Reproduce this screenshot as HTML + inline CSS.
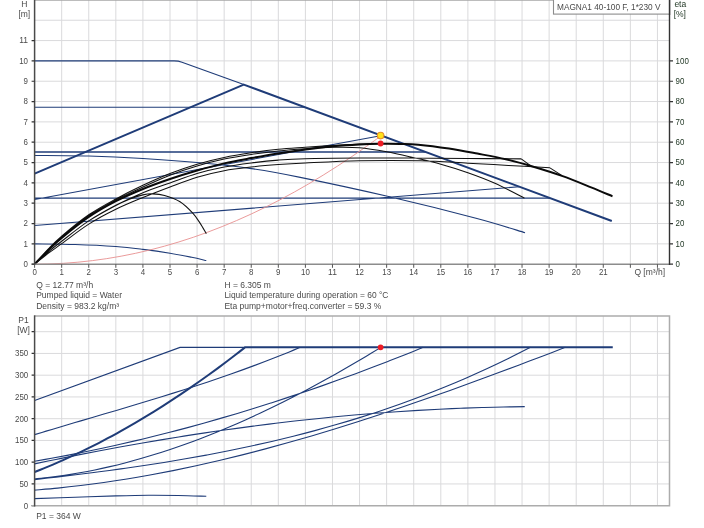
<!DOCTYPE html>
<html><head><meta charset="utf-8"><title>MAGNA1 40-100 F pump curve</title>
<style>
html,body{margin:0;padding:0;background:#fff;}
body{width:704px;height:528px;overflow:hidden;position:relative;font-family:"Liberation Sans",sans-serif;}
svg{display:block;}
</style></head><body>
<svg width="704" height="528" viewBox="0 0 704 528" style="position:absolute;left:0;top:0">
<rect x="0" y="0" width="704" height="528" fill="#fff"/>
<path d="M61.68,0V264.20M61.68,316V505.70M88.76,0V264.20M88.76,316V505.70M115.84,0V264.20M115.84,316V505.70M142.92,0V264.20M142.92,316V505.70M170.00,0V264.20M170.00,316V505.70M197.08,0V264.20M197.08,316V505.70M224.16,0V264.20M224.16,316V505.70M251.24,0V264.20M251.24,316V505.70M278.32,0V264.20M278.32,316V505.70M305.40,0V264.20M305.40,316V505.70M332.48,0V264.20M332.48,316V505.70M359.56,0V264.20M359.56,316V505.70M386.64,0V264.20M386.64,316V505.70M413.72,0V264.20M413.72,316V505.70M440.80,0V264.20M440.80,316V505.70M467.88,0V264.20M467.88,316V505.70M494.96,0V264.20M494.96,316V505.70M522.04,0V264.20M522.04,316V505.70M549.12,0V264.20M549.12,316V505.70M576.20,0V264.20M576.20,316V505.70M603.28,0V264.20M603.28,316V505.70M630.36,0V264.20M630.36,316V505.70M657.44,0V264.20M657.44,316V505.70M34.60,243.87H669.50M34.60,223.54H669.50M34.60,203.21H669.50M34.60,182.88H669.50M34.60,162.55H669.50M34.60,142.22H669.50M34.60,121.89H669.50M34.60,101.56H669.50M34.60,81.23H669.50M34.60,60.90H669.50M34.60,40.57H669.50M34.60,20.24H669.50M34.60,483.95H669.50M34.60,462.20H669.50M34.60,440.45H669.50M34.60,418.70H669.50M34.60,396.95H669.50M34.60,375.20H669.50M34.60,353.45H669.50M34.60,331.70H669.50" stroke="#dadadc" stroke-width="1" fill="none"/>
<path d="M34.60,60.90 L174,60.90 Q178.5,60.90 182,62.20 L243.75,84.60 M34.60,107.25 H304.87 M34.60,198.13 H550.08 M34.60,199.55 L380.60,135.70 M34.60,225.57 L519.40,186.76 M34.60,155.43 C43.63,155.54 70.71,155.54 88.76,156.04 C106.81,156.55 124.87,157.40 142.92,158.48 C160.97,159.57 179.03,160.86 197.08,162.55 C215.13,164.24 234.04,166.18 251.24,168.65 C268.44,171.12 277.55,172.78 300.25,177.39 C322.96,182.00 358.16,189.49 387.45,196.30 C416.74,203.11 453.08,212.19 476.00,218.25 C498.93,224.32 516.85,230.28 525.02,232.69 M34.60,243.87 C41.37,243.97 61.68,244.04 75.22,244.48 C88.76,244.92 104.56,245.70 115.84,246.51 C127.12,247.33 133.89,248.24 142.92,249.36 C151.95,250.48 161.88,251.90 170.00,253.22 C178.12,254.54 185.62,256.07 191.66,257.29 C197.71,258.51 203.85,260.00 206.29,260.54" stroke="#1f3c78" stroke-width="1.1" fill="none"/>
<path d="M34.60,151.98 H425.56" stroke="#1f3c78" stroke-width="1.3" fill="none"/>
<path d="M34.60,173.60 L243.75,84.60 L611.80,221.00" stroke="#1f3c78" stroke-width="2" fill="none" stroke-linejoin="round"/>
<path d="M34.60,264.20 C37.01,264.16 44.22,264.13 49.03,263.98 C53.84,263.83 58.65,263.61 63.46,263.31 C68.27,263.01 73.08,262.64 77.89,262.20 C82.70,261.75 87.52,261.23 92.33,260.64 C97.14,260.04 101.95,259.37 106.76,258.63 C111.57,257.89 116.38,257.07 121.19,256.18 C126.00,255.29 130.81,254.33 135.62,253.29 C140.43,252.25 145.24,251.13 150.05,249.95 C154.86,248.76 159.67,247.50 164.48,246.16 C169.29,244.82 174.10,243.41 178.91,241.93 C183.72,240.44 188.53,238.89 193.35,237.25 C198.16,235.62 202.97,233.91 207.78,232.13 C212.59,230.35 217.40,228.49 222.21,226.56 C227.02,224.63 231.83,222.63 236.64,220.55 C241.45,218.47 246.26,216.32 251.07,214.09 C255.88,211.86 260.69,209.56 265.50,207.19 C270.31,204.81 275.12,202.36 279.93,199.84 C284.74,197.31 289.55,194.71 294.36,192.04 C299.18,189.37 303.99,186.62 308.80,183.80 C313.61,180.98 318.42,178.08 323.23,175.12 C328.04,172.15 332.85,169.10 337.66,165.98 C342.47,162.87 347.28,159.67 352.09,156.41 C356.90,153.14 361.71,149.80 366.52,146.39 C371.33,142.97 378.55,137.66 380.95,135.92" stroke="#e89090" stroke-width="0.9" fill="none"/>
<path d="M34.60,264.20 C36.86,261.69 43.63,253.83 48.14,249.16 C52.65,244.48 54.91,241.87 61.68,236.14 C68.45,230.42 79.73,221.00 88.76,214.80 C97.79,208.60 106.81,203.85 115.84,198.94 C124.87,194.03 133.89,189.56 142.92,185.32 C151.95,181.08 160.97,177.05 170.00,173.53 C179.03,170.00 188.05,166.85 197.08,164.18 C206.11,161.50 215.13,159.36 224.16,157.47 C233.19,155.57 242.21,154.15 251.24,152.79 C260.27,151.44 269.29,150.25 278.32,149.34 C287.35,148.42 296.37,147.95 305.40,147.30 C314.43,146.66 323.45,146.01 332.48,145.47 C341.51,144.93 351.48,144.39 359.56,144.05 C367.64,143.71 377.39,143.54 380.95,143.44 M34.60,264.20 C36.86,261.79 43.63,254.27 48.14,249.77 C52.65,245.26 54.91,242.79 61.68,237.16 C68.45,231.54 79.73,222.18 88.76,216.02 C97.79,209.85 106.81,205.01 115.84,200.16 C124.87,195.32 133.89,191.11 142.92,186.95 C151.95,182.78 160.97,178.64 170.00,175.15 C179.03,171.66 188.05,168.68 197.08,166.01 C206.11,163.33 215.13,161.03 224.16,159.09 C233.19,157.16 242.21,155.77 251.24,154.42 C260.27,153.06 269.29,151.91 278.32,150.96 C287.35,150.01 296.37,149.34 305.40,148.73 C314.43,148.12 323.45,147.47 332.48,147.30 C341.51,147.13 350.53,146.96 359.56,147.71 C368.59,148.45 377.61,150.11 386.64,151.78 C395.67,153.44 404.69,155.60 413.72,157.67 C422.75,159.74 431.77,161.67 440.80,164.18 C449.83,166.68 458.85,169.53 467.88,172.72 C476.91,175.90 485.53,179.05 494.96,183.29 C504.39,187.52 519.56,195.65 524.48,198.13 M34.60,264.20 C36.86,262.17 43.63,255.83 48.14,252.00 C52.65,248.17 54.91,246.41 61.68,241.23 C68.45,236.04 79.73,226.89 88.76,220.90 C97.79,214.90 106.81,209.95 115.84,205.24 C124.87,200.53 133.89,196.37 142.92,192.64 C151.95,188.91 160.97,186.07 170.00,182.88 C179.03,179.69 188.05,176.17 197.08,173.53 C206.11,170.89 215.13,168.78 224.16,167.02 C233.19,165.26 242.21,164.11 251.24,162.96 C260.27,161.80 269.29,160.82 278.32,160.11 C287.35,159.40 291.86,159.03 305.40,158.69 C318.94,158.35 341.51,158.18 359.56,158.08 C377.61,157.98 395.67,158.01 413.72,158.08 C431.77,158.15 449.96,158.35 467.88,158.48 C485.80,158.62 512.34,158.82 521.23,158.89 M34.60,264.20 C36.86,262.40 43.63,256.85 48.14,253.43 C52.65,250.00 54.91,248.55 61.68,243.67 C68.45,238.79 79.73,229.88 88.76,224.15 C97.79,218.42 106.81,213.75 115.84,209.31 C124.87,204.87 133.89,201.24 142.92,197.52 C151.95,193.79 160.97,190.33 170.00,186.95 C179.03,183.56 188.05,179.90 197.08,177.19 C206.11,174.48 215.13,172.38 224.16,170.68 C233.19,168.99 242.21,168.04 251.24,167.02 C260.27,166.01 269.29,165.26 278.32,164.58 C287.35,163.91 291.86,163.60 305.40,162.96 C318.94,162.31 340.38,161.09 359.56,160.72 C378.74,160.35 402.44,160.31 420.49,160.72 C438.54,161.13 453.21,162.38 467.88,163.16 C482.55,163.94 494.82,164.62 508.50,165.40 C522.18,166.18 543.03,167.43 549.93,167.84 M34.60,264.20 C36.86,262.17 43.63,255.83 48.14,252.00 C52.65,248.17 54.91,246.41 61.68,241.23 C68.45,236.04 79.73,226.86 88.76,220.90 C97.79,214.93 109.07,209.07 115.84,205.45 C122.61,201.82 124.87,200.91 129.38,199.14 C133.89,197.38 139.04,195.76 142.92,194.87 C146.80,193.99 149.06,193.76 152.67,193.86 C156.28,193.96 160.03,194.16 164.58,195.48 C169.14,196.81 175.33,198.84 180.02,201.79 C184.71,204.73 189.41,209.61 192.75,213.17 C196.09,216.73 197.80,219.71 200.06,223.13 C202.32,226.56 205.25,231.94 206.29,233.70 M521.23,158.89 L530.16,165.40 M549.93,167.84 L561.31,175.15" stroke="#111" stroke-width="1.05" fill="none" stroke-linejoin="round"/>
<path d="M34.60,264.20 C36.86,261.90 43.63,254.75 48.14,250.38 C52.65,246.00 54.91,243.53 61.68,237.97 C68.45,232.42 79.73,223.17 88.76,217.03 C97.79,210.90 106.81,205.85 115.84,201.18 C124.87,196.50 133.89,192.67 142.92,188.98 C151.95,185.29 160.97,182.10 170.00,179.02 C179.03,175.93 188.05,173.09 197.08,170.48 C206.11,167.87 215.13,165.43 224.16,163.36 C233.19,161.30 242.21,159.74 251.24,158.08 C260.27,156.42 269.29,154.82 278.32,153.40 C287.35,151.98 296.28,150.72 305.40,149.54 C314.52,148.35 323.99,147.13 333.02,146.29 C342.05,145.44 351.57,144.86 359.56,144.46 C367.55,144.05 374.18,143.93 380.95,143.85 C387.72,143.76 393.95,143.81 400.18,143.95 C406.41,144.08 410.20,143.90 418.32,144.66 C426.45,145.42 439.08,147.03 448.92,148.52 C458.76,150.01 467.88,151.81 477.36,153.60 C486.84,155.40 496.31,157.06 505.79,159.30 C515.27,161.53 524.75,164.21 534.23,167.02 C543.70,169.83 553.18,172.78 562.66,176.17 C572.14,179.56 582.79,184.00 591.09,187.35 C599.40,190.71 608.92,194.81 612.49,196.30" stroke="#0a0a0a" stroke-width="2.0" fill="none"/>
<path d="M34.60,400.52 L180.02,347.36 L245.01,347.36 M34.60,434.62 C36.53,434.04 42.30,432.30 46.15,431.15 C50.00,430.00 53.85,428.86 57.70,427.71 C61.55,426.57 65.40,425.43 69.25,424.30 C73.10,423.16 76.95,422.03 80.80,420.89 C84.65,419.76 88.50,418.63 92.35,417.50 C96.20,416.36 100.05,415.23 103.90,414.09 C107.75,412.96 111.60,411.82 115.45,410.68 C119.30,409.54 123.15,408.40 127.00,407.25 C130.85,406.10 134.70,404.94 138.55,403.78 C142.40,402.62 146.25,401.46 150.10,400.28 C153.95,399.10 157.80,397.92 161.65,396.73 C165.50,395.54 169.35,394.34 173.20,393.13 C177.05,391.91 180.90,390.69 184.75,389.46 C188.60,388.22 192.45,386.98 196.30,385.72 C200.15,384.46 204.00,383.18 207.85,381.90 C211.70,380.61 215.55,379.30 219.40,377.98 C223.25,376.66 227.10,375.33 230.95,373.97 C234.80,372.62 238.65,371.25 242.50,369.86 C246.35,368.46 250.20,367.05 254.05,365.62 C257.90,364.19 261.75,362.74 265.60,361.26 C269.45,359.79 273.30,358.29 277.15,356.77 C281.00,355.25 284.85,353.71 288.70,352.14 C292.55,350.57 298.33,348.16 300.25,347.36 M34.60,461.19 C37.42,460.70 45.86,459.26 51.50,458.25 C57.13,457.24 62.76,456.19 68.39,455.12 C74.02,454.04 79.65,452.93 85.29,451.79 C90.92,450.65 96.55,449.47 102.18,448.27 C107.81,447.06 113.45,445.82 119.08,444.56 C124.71,443.29 130.34,441.99 135.97,440.66 C141.61,439.32 147.24,437.96 152.87,436.57 C158.50,435.18 164.13,433.75 169.76,432.30 C175.40,430.84 181.03,429.36 186.66,427.85 C192.29,426.33 197.92,424.79 203.56,423.21 C209.19,421.64 214.82,420.03 220.45,418.40 C226.08,416.76 231.71,415.10 237.35,413.41 C242.98,411.72 248.61,409.99 254.24,408.24 C259.87,406.49 265.51,404.71 271.14,402.90 C276.77,401.10 282.40,399.26 288.03,397.39 C293.67,395.53 299.30,393.63 304.93,391.71 C310.56,389.79 316.19,387.84 321.82,385.86 C327.46,383.89 333.09,381.88 338.72,379.85 C344.35,377.82 349.98,375.76 355.62,373.67 C361.25,371.59 366.88,369.47 372.51,367.33 C378.14,365.19 383.78,363.02 389.41,360.83 C395.04,358.64 400.67,356.42 406.30,354.17 C411.93,351.93 420.38,348.50 423.20,347.36 M34.60,463.90 C38.15,463.15 48.81,460.90 55.91,459.44 C63.01,457.98 70.12,456.55 77.22,455.15 C84.33,453.74 91.43,452.36 98.53,451.01 C105.64,449.66 112.74,448.34 119.84,447.04 C126.95,445.75 134.05,444.48 141.15,443.24 C148.26,442.01 155.36,440.80 162.46,439.62 C169.57,438.43 176.67,437.28 183.78,436.16 C190.88,435.04 197.98,433.94 205.09,432.88 C212.19,431.82 219.29,430.78 226.40,429.78 C233.50,428.77 240.60,427.80 247.71,426.86 C254.81,425.91 261.92,425.00 269.02,424.12 C276.12,423.24 283.23,422.39 290.33,421.57 C297.43,420.75 304.54,419.97 311.64,419.21 C318.74,418.46 325.85,417.74 332.95,417.05 C340.05,416.36 347.16,415.70 354.26,415.07 C361.37,414.45 368.47,413.86 375.57,413.30 C382.68,412.74 389.78,412.22 396.88,411.73 C403.99,411.24 411.09,410.78 418.19,410.36 C425.30,409.93 432.40,409.54 439.50,409.19 C446.61,408.84 453.71,408.52 460.82,408.24 C467.92,407.95 475.02,407.70 482.13,407.49 C489.23,407.28 496.33,407.10 503.44,406.96 C510.54,406.82 521.20,406.70 524.75,406.65 M34.60,478.90 C37.11,478.64 44.64,477.92 49.66,477.32 C54.68,476.71 59.70,476.04 64.72,475.29 C69.74,474.54 74.76,473.72 79.78,472.82 C84.80,471.93 89.82,470.97 94.84,469.94 C99.85,468.91 104.87,467.80 109.89,466.64 C114.91,465.47 119.93,464.23 124.95,462.93 C129.97,461.63 134.99,460.26 140.01,458.83 C145.03,457.40 150.05,455.90 155.07,454.34 C160.09,452.79 165.11,451.16 170.13,449.48 C175.15,447.80 180.17,446.06 185.19,444.26 C190.21,442.45 195.23,440.59 200.25,438.67 C205.27,436.75 210.29,434.77 215.31,432.74 C220.33,430.71 225.35,428.62 230.36,426.47 C235.38,424.33 240.40,422.13 245.42,419.88 C250.44,417.63 255.46,415.32 260.48,412.97 C265.50,410.61 270.52,408.20 275.54,405.74 C280.56,403.29 285.58,400.78 290.60,398.22 C295.62,395.67 300.64,393.06 305.66,390.41 C310.68,387.76 315.70,385.06 320.72,382.32 C325.74,379.58 330.76,376.79 335.78,373.96 C340.80,371.13 345.82,368.26 350.84,365.34 C355.86,362.43 360.87,359.47 365.89,356.47 C370.91,353.47 378.44,348.88 380.95,347.36 M34.60,479.61 C38.19,479.20 48.97,477.99 56.16,477.15 C63.34,476.31 70.53,475.45 77.72,474.56 C84.90,473.68 92.09,472.77 99.27,471.82 C106.46,470.88 113.65,469.91 120.83,468.90 C128.02,467.90 135.20,466.86 142.39,465.78 C149.58,464.70 156.76,463.59 163.95,462.43 C171.13,461.27 178.32,460.08 185.51,458.83 C192.69,457.59 199.88,456.30 207.06,454.96 C214.25,453.62 221.44,452.23 228.62,450.78 C235.81,449.34 242.99,447.84 250.18,446.29 C257.37,444.73 264.55,443.12 271.74,441.44 C278.92,439.76 286.11,438.03 293.30,436.22 C300.48,434.42 307.67,432.55 314.85,430.61 C322.04,428.67 329.23,426.66 336.41,424.58 C343.60,422.49 350.78,420.34 357.97,418.10 C365.16,415.86 372.34,413.55 379.53,411.15 C386.71,408.75 393.90,406.28 401.09,403.71 C408.27,401.15 415.46,398.50 422.64,395.76 C429.83,393.01 437.02,390.18 444.20,387.26 C451.39,384.33 458.57,381.31 465.76,378.19 C472.95,375.07 480.13,371.86 487.32,368.54 C494.50,365.22 501.69,361.80 508.88,358.27 C516.06,354.74 526.84,349.18 530.43,347.36 M34.60,490.13 C38.45,489.79 49.98,488.87 57.68,488.11 C65.37,487.35 73.06,486.50 80.75,485.57 C88.45,484.63 96.14,483.62 103.83,482.52 C111.52,481.43 119.22,480.25 126.91,479.00 C134.60,477.75 142.29,476.42 149.98,475.02 C157.68,473.61 165.37,472.14 173.06,470.59 C180.75,469.05 188.45,467.43 196.14,465.75 C203.83,464.06 211.52,462.31 219.21,460.50 C226.91,458.69 234.60,456.81 242.29,454.88 C249.98,452.94 257.68,450.94 265.37,448.89 C273.06,446.84 280.75,444.73 288.45,442.56 C296.14,440.40 303.83,438.18 311.52,435.92 C319.21,433.65 326.91,431.33 334.60,428.97 C342.29,426.61 349.98,424.19 357.68,421.74 C365.37,419.29 373.06,416.79 380.75,414.25 C388.45,411.72 396.14,409.14 403.83,406.52 C411.52,403.91 419.21,401.26 426.91,398.57 C434.60,395.89 442.29,393.17 449.98,390.42 C457.68,387.68 465.37,384.90 473.06,382.09 C480.75,379.29 488.45,376.45 496.14,373.60 C503.83,370.75 511.52,367.87 519.21,364.97 C526.91,362.07 534.60,359.15 542.29,356.22 C549.98,353.28 561.52,348.84 565.37,347.36 M34.60,498.65 C41.37,498.41 61.68,497.67 75.22,497.22 C88.76,496.76 103.65,496.24 115.84,495.91 C128.03,495.59 137.96,495.33 148.34,495.26 C158.72,495.19 168.47,495.31 178.12,495.48 C187.78,495.64 201.59,496.13 206.29,496.26" stroke="#1f3c78" stroke-width="1.1" fill="none"/>
<path d="M34.60,471.99 C36.12,471.39 40.70,469.59 43.75,468.35 C46.80,467.11 49.85,465.84 52.90,464.55 C55.95,463.25 59.00,461.92 62.04,460.57 C65.09,459.22 68.14,457.84 71.19,456.43 C74.24,455.02 77.29,453.59 80.34,452.13 C83.39,450.67 86.44,449.18 89.49,447.66 C92.54,446.14 95.59,444.60 98.64,443.03 C101.69,441.46 104.74,439.86 107.79,438.23 C110.84,436.61 113.89,434.96 116.93,433.28 C119.98,431.60 123.03,429.90 126.08,428.16 C129.13,426.43 132.18,424.67 135.23,422.89 C138.28,421.10 141.33,419.29 144.38,417.45 C147.43,415.61 150.48,413.75 153.53,411.86 C156.58,409.97 159.63,408.05 162.68,406.11 C165.73,404.16 168.78,402.19 171.82,400.20 C174.87,398.20 177.92,396.18 180.97,394.13 C184.02,392.09 187.07,390.01 190.12,387.91 C193.17,385.81 196.22,383.69 199.27,381.54 C202.32,379.39 205.37,377.21 208.42,375.01 C211.47,372.81 214.52,370.58 217.57,368.33 C220.62,366.07 223.67,363.80 226.71,361.49 C229.76,359.19 232.81,356.86 235.86,354.51 C238.91,352.15 243.49,348.56 245.01,347.37 L612.76,347.36" stroke="#1f3c78" stroke-width="2" fill="none" stroke-linejoin="round"/>
<path d="M34.60,0.2H669.50" stroke="#a6a6a6" stroke-width="1.2" fill="none"/>
<path d="M31.60,264.20H669.50" stroke="#8c8c8c" stroke-width="1.4" fill="none"/>
<path d="M34.60,0V265.00" stroke="#4a4a4a" stroke-width="1.5" fill="none"/>
<path d="M669.50,0V265.00" stroke="#333" stroke-width="1.4" fill="none"/>
<path d="M31.60,264.20H34.60M31.60,243.87H34.60M31.60,223.54H34.60M31.60,203.21H34.60M31.60,182.88H34.60M31.60,162.55H34.60M31.60,142.22H34.60M31.60,121.89H34.60M31.60,101.56H34.60M31.60,81.23H34.60M31.60,60.90H34.60M31.60,40.57H34.60M31.60,505.70H34.60M31.60,483.95H34.60M31.60,462.20H34.60M31.60,440.45H34.60M31.60,418.70H34.60M31.60,396.95H34.60M31.60,375.20H34.60M31.60,353.45H34.60M31.60,331.70H34.60M669.50,264.20H673.00M669.50,243.87H673.00M669.50,223.54H673.00M669.50,203.21H673.00M669.50,182.88H673.00M669.50,162.55H673.00M669.50,142.22H673.00M669.50,121.89H673.00M669.50,101.56H673.00M669.50,81.23H673.00M669.50,60.90H673.00" stroke="#333" stroke-width="1.2" fill="none"/>
<path d="M34.60,264.20V267.80M61.68,264.20V267.80M88.76,264.20V267.80M115.84,264.20V267.80M142.92,264.20V267.80M170.00,264.20V267.80M197.08,264.20V267.80M224.16,264.20V267.80M251.24,264.20V267.80M278.32,264.20V267.80M305.40,264.20V267.80M332.48,264.20V267.80M359.56,264.20V267.80M386.64,264.20V267.80M413.72,264.20V267.80M440.80,264.20V267.80M467.88,264.20V267.80M494.96,264.20V267.80M522.04,264.20V267.80M549.12,264.20V267.80M576.20,264.20V267.80M603.28,264.20V267.80M630.36,264.20V267.80M657.44,264.20V267.80" stroke="#555" stroke-width="1" fill="none"/>
<path d="M34.60,316H669.50V505.70H31.60" stroke="#acacac" stroke-width="1.5" fill="none"/>
<path d="M34.60,315.3V506.50" stroke="#4a4a4a" stroke-width="1.5" fill="none"/>
<rect x="553.5" y="-2" width="116" height="16.1" fill="#fff" stroke="#8c8c8c" stroke-width="1.1"/>
<path d="M669.50,0V15" stroke="#333" stroke-width="1.4" fill="none"/>
<circle cx="380.6" cy="135.6" r="3.3" fill="#ffe21a" stroke="#e8902a" stroke-width="1.1"/>
<circle cx="380.6" cy="143.5" r="2.9" fill="#ee1c25"/>
<circle cx="380.6" cy="347.36" r="2.9" fill="#ee1c25"/>
<defs><filter id="gs" filterUnits="userSpaceOnUse" x="0" y="0" width="704" height="528"><feOffset dx="0" dy="0"/></filter></defs>
<g font-family="'Liberation Sans', sans-serif" filter="url(#gs)">
<text x="24.30" y="6.80" text-anchor="middle" fill="#4a4a4a" font-size="8.5">H</text>
<text x="24.30" y="17.00" text-anchor="middle" fill="#4a4a4a" font-size="8.5">[m]</text>
<text x="28.00" y="267.05" text-anchor="end" fill="#4a4a4a" font-size="8.5" textLength="4.4" lengthAdjust="spacingAndGlyphs">0</text>
<text x="28.00" y="246.72" text-anchor="end" fill="#4a4a4a" font-size="8.5" textLength="4.4" lengthAdjust="spacingAndGlyphs">1</text>
<text x="28.00" y="226.39" text-anchor="end" fill="#4a4a4a" font-size="8.5" textLength="4.4" lengthAdjust="spacingAndGlyphs">2</text>
<text x="28.00" y="206.06" text-anchor="end" fill="#4a4a4a" font-size="8.5" textLength="4.4" lengthAdjust="spacingAndGlyphs">3</text>
<text x="28.00" y="185.73" text-anchor="end" fill="#4a4a4a" font-size="8.5" textLength="4.4" lengthAdjust="spacingAndGlyphs">4</text>
<text x="28.00" y="165.40" text-anchor="end" fill="#4a4a4a" font-size="8.5" textLength="4.4" lengthAdjust="spacingAndGlyphs">5</text>
<text x="28.00" y="145.07" text-anchor="end" fill="#4a4a4a" font-size="8.5" textLength="4.4" lengthAdjust="spacingAndGlyphs">6</text>
<text x="28.00" y="124.74" text-anchor="end" fill="#4a4a4a" font-size="8.5" textLength="4.4" lengthAdjust="spacingAndGlyphs">7</text>
<text x="28.00" y="104.41" text-anchor="end" fill="#4a4a4a" font-size="8.5" textLength="4.4" lengthAdjust="spacingAndGlyphs">8</text>
<text x="28.00" y="84.08" text-anchor="end" fill="#4a4a4a" font-size="8.5" textLength="4.4" lengthAdjust="spacingAndGlyphs">9</text>
<text x="28.00" y="63.75" text-anchor="end" fill="#4a4a4a" font-size="8.5" textLength="8.8" lengthAdjust="spacingAndGlyphs">10</text>
<text x="28.00" y="43.42" text-anchor="end" fill="#4a4a4a" font-size="8.5" textLength="8.8" lengthAdjust="spacingAndGlyphs">11</text>
<text x="34.60" y="274.65" text-anchor="middle" fill="#4a4a4a" font-size="8.5" textLength="4.4" lengthAdjust="spacingAndGlyphs">0</text>
<text x="61.68" y="274.65" text-anchor="middle" fill="#4a4a4a" font-size="8.5" textLength="4.4" lengthAdjust="spacingAndGlyphs">1</text>
<text x="88.76" y="274.65" text-anchor="middle" fill="#4a4a4a" font-size="8.5" textLength="4.4" lengthAdjust="spacingAndGlyphs">2</text>
<text x="115.84" y="274.65" text-anchor="middle" fill="#4a4a4a" font-size="8.5" textLength="4.4" lengthAdjust="spacingAndGlyphs">3</text>
<text x="142.92" y="274.65" text-anchor="middle" fill="#4a4a4a" font-size="8.5" textLength="4.4" lengthAdjust="spacingAndGlyphs">4</text>
<text x="170.00" y="274.65" text-anchor="middle" fill="#4a4a4a" font-size="8.5" textLength="4.4" lengthAdjust="spacingAndGlyphs">5</text>
<text x="197.08" y="274.65" text-anchor="middle" fill="#4a4a4a" font-size="8.5" textLength="4.4" lengthAdjust="spacingAndGlyphs">6</text>
<text x="224.16" y="274.65" text-anchor="middle" fill="#4a4a4a" font-size="8.5" textLength="4.4" lengthAdjust="spacingAndGlyphs">7</text>
<text x="251.24" y="274.65" text-anchor="middle" fill="#4a4a4a" font-size="8.5" textLength="4.4" lengthAdjust="spacingAndGlyphs">8</text>
<text x="278.32" y="274.65" text-anchor="middle" fill="#4a4a4a" font-size="8.5" textLength="4.4" lengthAdjust="spacingAndGlyphs">9</text>
<text x="305.40" y="274.65" text-anchor="middle" fill="#4a4a4a" font-size="8.5" textLength="8.8" lengthAdjust="spacingAndGlyphs">10</text>
<text x="332.48" y="274.65" text-anchor="middle" fill="#4a4a4a" font-size="8.5" textLength="8.8" lengthAdjust="spacingAndGlyphs">11</text>
<text x="359.56" y="274.65" text-anchor="middle" fill="#4a4a4a" font-size="8.5" textLength="8.8" lengthAdjust="spacingAndGlyphs">12</text>
<text x="386.64" y="274.65" text-anchor="middle" fill="#4a4a4a" font-size="8.5" textLength="8.8" lengthAdjust="spacingAndGlyphs">13</text>
<text x="413.72" y="274.65" text-anchor="middle" fill="#4a4a4a" font-size="8.5" textLength="8.8" lengthAdjust="spacingAndGlyphs">14</text>
<text x="440.80" y="274.65" text-anchor="middle" fill="#4a4a4a" font-size="8.5" textLength="8.8" lengthAdjust="spacingAndGlyphs">15</text>
<text x="467.88" y="274.65" text-anchor="middle" fill="#4a4a4a" font-size="8.5" textLength="8.8" lengthAdjust="spacingAndGlyphs">16</text>
<text x="494.96" y="274.65" text-anchor="middle" fill="#4a4a4a" font-size="8.5" textLength="8.8" lengthAdjust="spacingAndGlyphs">17</text>
<text x="522.04" y="274.65" text-anchor="middle" fill="#4a4a4a" font-size="8.5" textLength="8.8" lengthAdjust="spacingAndGlyphs">18</text>
<text x="549.12" y="274.65" text-anchor="middle" fill="#4a4a4a" font-size="8.5" textLength="8.8" lengthAdjust="spacingAndGlyphs">19</text>
<text x="576.20" y="274.65" text-anchor="middle" fill="#4a4a4a" font-size="8.5" textLength="8.8" lengthAdjust="spacingAndGlyphs">20</text>
<text x="603.28" y="274.65" text-anchor="middle" fill="#4a4a4a" font-size="8.5" textLength="8.8" lengthAdjust="spacingAndGlyphs">21</text>
<text x="634.40" y="274.65" text-anchor="start" fill="#4a4a4a" font-size="8.5">Q [m³/h]</text>
<text x="675.60" y="267.05" text-anchor="start" fill="#1c3320" font-size="8.5" textLength="4.4" lengthAdjust="spacingAndGlyphs">0</text>
<text x="675.60" y="246.72" text-anchor="start" fill="#1c3320" font-size="8.5" textLength="8.8" lengthAdjust="spacingAndGlyphs">10</text>
<text x="675.60" y="226.39" text-anchor="start" fill="#1c3320" font-size="8.5" textLength="8.8" lengthAdjust="spacingAndGlyphs">20</text>
<text x="675.60" y="206.06" text-anchor="start" fill="#1c3320" font-size="8.5" textLength="8.8" lengthAdjust="spacingAndGlyphs">30</text>
<text x="675.60" y="185.73" text-anchor="start" fill="#1c3320" font-size="8.5" textLength="8.8" lengthAdjust="spacingAndGlyphs">40</text>
<text x="675.60" y="165.40" text-anchor="start" fill="#1c3320" font-size="8.5" textLength="8.8" lengthAdjust="spacingAndGlyphs">50</text>
<text x="675.60" y="145.07" text-anchor="start" fill="#1c3320" font-size="8.5" textLength="8.8" lengthAdjust="spacingAndGlyphs">60</text>
<text x="675.60" y="124.74" text-anchor="start" fill="#1c3320" font-size="8.5" textLength="8.8" lengthAdjust="spacingAndGlyphs">70</text>
<text x="675.60" y="104.41" text-anchor="start" fill="#1c3320" font-size="8.5" textLength="8.8" lengthAdjust="spacingAndGlyphs">80</text>
<text x="675.60" y="84.08" text-anchor="start" fill="#1c3320" font-size="8.5" textLength="8.8" lengthAdjust="spacingAndGlyphs">90</text>
<text x="675.60" y="63.75" text-anchor="start" fill="#1c3320" font-size="8.5" textLength="13.2" lengthAdjust="spacingAndGlyphs">100</text>
<text x="680.30" y="7.00" text-anchor="middle" fill="#1c3320" font-size="8.5">eta</text>
<text x="679.80" y="16.70" text-anchor="middle" fill="#1c3320" font-size="8.5">[%]</text>
<text x="557.00" y="9.50" text-anchor="start" fill="#4a4a4a" font-size="8.5" textLength="103.5" lengthAdjust="spacingAndGlyphs">MAGNA1 40-100 F, 1*230 V</text>
<text x="36.20" y="287.75" text-anchor="start" fill="#4a4a4a" font-size="8.5">Q = 12.77 m³/h</text>
<text x="36.20" y="298.45" text-anchor="start" fill="#4a4a4a" font-size="8.5" textLength="85.8" lengthAdjust="spacingAndGlyphs">Pumped liquid = Water</text>
<text x="36.20" y="309.25" text-anchor="start" fill="#4a4a4a" font-size="8.5">Density = 983.2 kg/m³</text>
<text x="224.40" y="287.75" text-anchor="start" fill="#4a4a4a" font-size="8.5">H = 6.305 m</text>
<text x="224.40" y="298.45" text-anchor="start" fill="#4a4a4a" font-size="8.5" textLength="164.0" lengthAdjust="spacingAndGlyphs">Liquid temperature during operation = 60 °C</text>
<text x="224.40" y="309.25" text-anchor="start" fill="#4a4a4a" font-size="8.5" textLength="157.0" lengthAdjust="spacingAndGlyphs">Eta pump+motor+freq.converter = 59.3 %</text>
<text x="23.50" y="322.85" text-anchor="middle" fill="#4a4a4a" font-size="8.5">P1</text>
<text x="23.50" y="333.05" text-anchor="middle" fill="#4a4a4a" font-size="8.5">[W]</text>
<text x="28.20" y="508.55" text-anchor="end" fill="#4a4a4a" font-size="8.5" textLength="4.4" lengthAdjust="spacingAndGlyphs">0</text>
<text x="28.20" y="486.80" text-anchor="end" fill="#4a4a4a" font-size="8.5" textLength="8.8" lengthAdjust="spacingAndGlyphs">50</text>
<text x="28.20" y="465.05" text-anchor="end" fill="#4a4a4a" font-size="8.5" textLength="13.2" lengthAdjust="spacingAndGlyphs">100</text>
<text x="28.20" y="443.30" text-anchor="end" fill="#4a4a4a" font-size="8.5" textLength="13.2" lengthAdjust="spacingAndGlyphs">150</text>
<text x="28.20" y="421.55" text-anchor="end" fill="#4a4a4a" font-size="8.5" textLength="13.2" lengthAdjust="spacingAndGlyphs">200</text>
<text x="28.20" y="399.80" text-anchor="end" fill="#4a4a4a" font-size="8.5" textLength="13.2" lengthAdjust="spacingAndGlyphs">250</text>
<text x="28.20" y="378.05" text-anchor="end" fill="#4a4a4a" font-size="8.5" textLength="13.2" lengthAdjust="spacingAndGlyphs">300</text>
<text x="28.20" y="356.30" text-anchor="end" fill="#4a4a4a" font-size="8.5" textLength="13.2" lengthAdjust="spacingAndGlyphs">350</text>
<text x="36.20" y="518.85" text-anchor="start" fill="#4a4a4a" font-size="8.5">P1 = 364 W</text>
</g>
</svg>
</body></html>
